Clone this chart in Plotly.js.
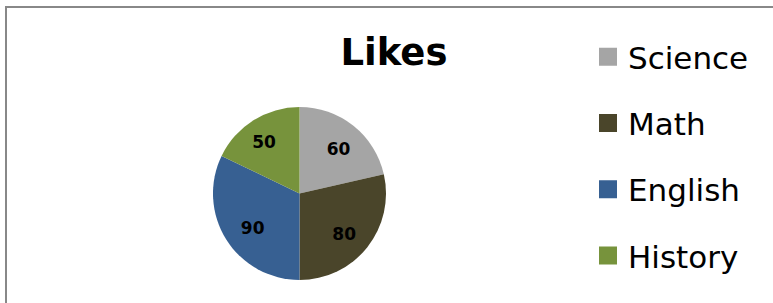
<!DOCTYPE html>
<html>
<head>
<meta charset="utf-8">
<script src="https://cdn.plot.ly/plotly-3.0.1.min.js"></script>
<style>html,body{margin:0;padding:0;background:#fff;}#chart{width:773px;height:303px;}</style>
</head>
<body>
<div id="chart"></div>
<script>
const categories = ["Science", "Math", "English", "History"];
const values = [60, 80, 90, 50];
const colors = ["#a5a5a5", "#4a452a", "#376092", "#77933c"];
const chartTitle = "Likes";

const W = 773, H = 303;
const px = v => v / W;
const py = v => 1 - v / H;
const cx = 299.5, cy = 193.5, R = 86.5;
const tcx = 299.5, tcy = 198.5, RT = 102;

const traces = [{
  type: "pie",
  labels: categories,
  values: values,
  sort: false,
  direction: "clockwise",
  rotation: 0,
  marker: {colors: colors, line: {color: "#ffffff", width: 0}},
  textinfo: "none",
  domain: {x: [px(cx - R), px(cx + R)], y: [py(cy + R), py(cy - R)]},
  showlegend: false,
  hoverinfo: "label+value"
}, {
  // same data, used only to place the value labels a bit further out
  type: "pie",
  labels: categories,
  values: values,
  sort: false,
  direction: "clockwise",
  rotation: 0,
  marker: {colors: categories.map(() => "rgba(0,0,0,0)"), line: {width: 0}},
  textinfo: "value",
  textposition: "inside",
  insidetextorientation: "horizontal",
  textfont: {family: "DejaVu Sans", size: 17, color: "#000000", weight: "bold"},
  domain: {x: [px(tcx - RT), px(tcx + RT)], y: [py(tcy + RT), py(tcy - RT)]},
  showlegend: false,
  hoverinfo: "skip"
}];

categories.forEach((c, i) => {
  traces.push({
    type: "scatter",
    mode: "markers",
    x: [null], y: [null],
    name: c,
    legendgroup: "g" + i,
    marker: {symbol: "square", size: 16, color: colors[i], line: {color: colors[i], width: 2}},
    showlegend: true,
    hoverinfo: "skip"
  });
});

const layout = {
  width: W, height: H,
  margin: {l: 0, r: 0, t: 0, b: 0},
  paper_bgcolor: "#ffffff",
  plot_bgcolor: "rgba(0,0,0,0)",
  xaxis: {visible: false, domain: [0.99, 1]},
  yaxis: {visible: false, domain: [0.99, 1]},
  title: {
    text: "<b>" + chartTitle + "</b>",
    font: {family: "DejaVu Sans", size: 37, color: "#000000"},
    x: px(394), xanchor: "center", xref: "paper",
    y: py(52), yanchor: "middle", yref: "paper"
  },
  showlegend: true,
  legend: {
    x: px(588), xanchor: "left",
    y: py(30), yanchor: "top",
    font: {family: "DejaVu Sans", size: 31, color: "#000000"},
    tracegroupgap: 23,
    bgcolor: "rgba(0,0,0,0)",
    itemclick: false
  },
  shapes: [{
    type: "rect", xref: "paper", yref: "paper",
    x0: px(6), x1: 1.2, y0: -0.2, y1: py(7),
    line: {color: "#888888", width: 2},
    fillcolor: "rgba(0,0,0,0)", layer: "below"
  }]
};

Plotly.newPlot("chart", traces, layout, {displayModeBar: false, staticPlot: true});
</script>
</body>
</html>
